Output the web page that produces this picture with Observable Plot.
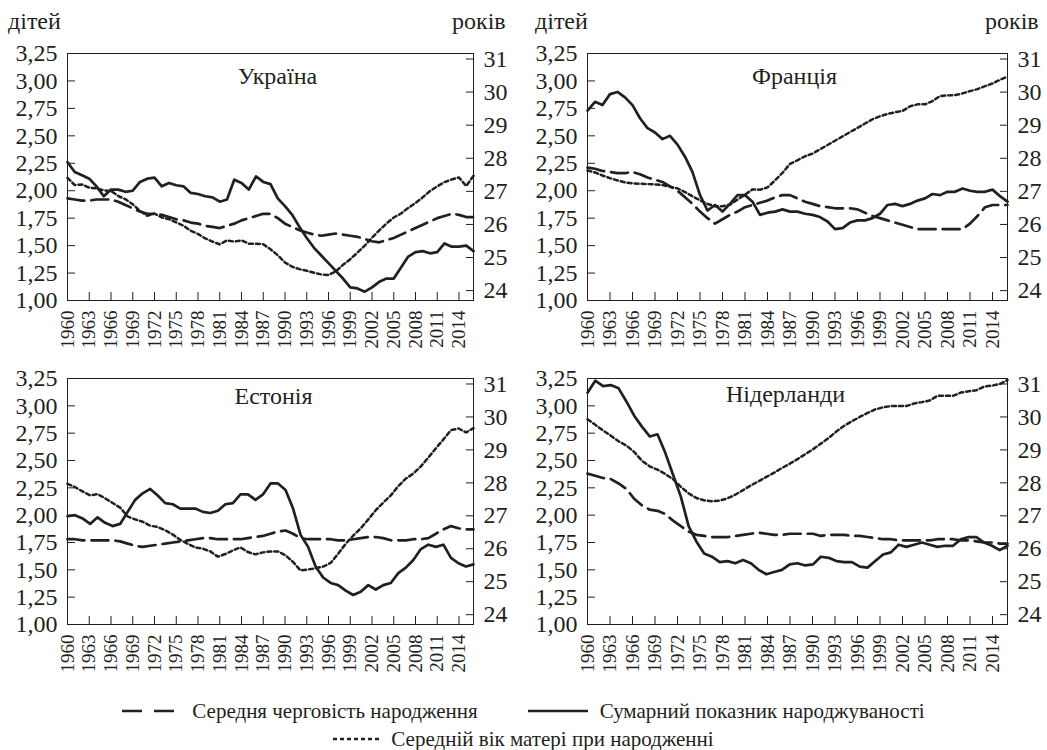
<!DOCTYPE html>
<html>
<head>
<meta charset="utf-8">
<script src="https://cdn.jsdelivr.net/npm/d3@7"></script>
<script src="https://cdn.jsdelivr.net/npm/@observablehq/plot@0.6"></script>
<style>
  html, body { margin: 0; padding: 0; background: #fff; }
  body { font-family: "Liberation Serif", "Times New Roman", serif; color: #231f20; }
  #wrap { position: relative; width: 1047px; height: 750px; overflow: hidden; }
  .panel { position: absolute; }
  .panel svg { overflow: visible; }
  .unit { position: absolute; font-size: 24px; line-height: 24px; white-space: nowrap; }
  .legrow { position: absolute; left: 0; width: 1047px; display: flex; justify-content: center; align-items: center; font-size: 21px; line-height: 24px; }
  .legitem { display: flex; align-items: center; }
  .legitem svg { margin-right: 12px; }
</style>
</head>
<body>
<div id="wrap"></div>
<script>
// ---------- data ----------
const yearsLong = d3.range(1960, 2017);   // Україна, Франція: 1960–2016
const yearsShort = d3.range(1960, 2015);  // Естонія, Нідерланди: 1960–2014 (stretched over the same axis in the source)
const xTickYears = d3.range(1960, 2015, 3);
const leftTicks = [1.00, 1.25, 1.50, 1.75, 2.00, 2.25, 2.50, 2.75, 3.00, 3.25];
const rightTicks = [24, 25, 26, 27, 28, 29, 30, 31];

const panelTitles = ["Україна", "Франція", "Естонія", "Нідерланди"];
const seriesNames = ["Середня черговість народження", "Сумарний показник народжуваності", "Середній вік матері при народженні"];
const unitLeft = "дітей";
const unitRight = "років";

// Україна
const uaTfr = [2.26,2.17,2.14,2.11,2.04,1.95,2.01,2.01,1.99,2.00,
  2.08,2.11,2.12,2.04,2.07,2.05,2.04,1.98,1.97,1.95,
  1.94,1.90,1.92,2.10,2.07,2.01,2.13,2.08,2.06,1.93,
  1.86,1.78,1.67,1.57,1.48,1.41,1.34,1.27,1.20,1.12,
  1.11,1.08,1.12,1.17,1.20,1.20,1.30,1.40,1.44,1.45,
  1.43,1.44,1.52,1.49,1.49,1.50,1.45];
const uaOrder = [1.93,1.92,1.91,1.91,1.92,1.92,1.92,1.90,1.87,1.84,
  1.81,1.79,1.79,1.78,1.76,1.74,1.73,1.71,1.70,1.68,
  1.67,1.66,1.68,1.70,1.73,1.75,1.77,1.79,1.79,1.75,
  1.70,1.67,1.64,1.62,1.60,1.59,1.60,1.61,1.60,1.59,
  1.58,1.56,1.54,1.53,1.55,1.57,1.60,1.63,1.66,1.69,
  1.72,1.75,1.77,1.79,1.78,1.76,1.76];
const uaAge = [27.41,27.19,27.21,27.11,27.09,27.03,27.01,26.86,26.76,26.61,
  26.41,26.26,26.33,26.21,26.16,26.06,25.96,25.81,25.71,25.58,
  25.48,25.40,25.52,25.48,25.52,25.42,25.42,25.40,25.25,25.07,
  24.85,24.72,24.65,24.60,24.54,24.49,24.47,24.58,24.78,24.95,
  25.15,25.36,25.60,25.82,26.03,26.21,26.33,26.50,26.65,26.82,
  27.01,27.15,27.28,27.36,27.42,27.16,27.47];

// Франція
const frTfr = [2.73,2.81,2.78,2.88,2.90,2.85,2.78,2.66,2.57,2.53,
  2.47,2.50,2.42,2.31,2.17,1.96,1.82,1.87,1.81,1.88,
  1.96,1.96,1.90,1.78,1.80,1.81,1.83,1.81,1.81,1.79,
  1.78,1.76,1.72,1.65,1.66,1.71,1.73,1.73,1.75,1.79,
  1.87,1.88,1.86,1.88,1.91,1.93,1.97,1.96,1.99,1.99,
  2.02,2.00,1.99,1.99,2.01,1.95,1.90];
const frOrder = [2.21,2.20,2.18,2.17,2.16,2.16,2.17,2.15,2.12,2.10,
  2.08,2.04,2.00,1.94,1.88,1.81,1.75,1.70,1.74,1.78,
  1.81,1.85,1.87,1.89,1.91,1.94,1.96,1.96,1.93,1.90,
  1.88,1.86,1.85,1.84,1.84,1.84,1.83,1.80,1.77,1.75,
  1.73,1.71,1.69,1.67,1.65,1.65,1.65,1.65,1.65,1.65,
  1.65,1.70,1.77,1.85,1.87,1.87,1.87];
const frAge = [27.63,27.57,27.48,27.40,27.33,27.27,27.24,27.23,27.22,27.21,
  27.19,27.14,27.09,26.98,26.85,26.73,26.62,26.55,26.55,26.60,
  26.75,26.90,27.06,27.05,27.12,27.33,27.56,27.83,27.94,28.06,
  28.14,28.27,28.40,28.53,28.66,28.79,28.92,29.05,29.18,29.27,
  29.34,29.39,29.43,29.57,29.63,29.63,29.73,29.88,29.90,29.91,
  29.96,30.03,30.09,30.18,30.26,30.37,30.47];

// Естонія
const eeTfr = [1.99,2.00,1.97,1.92,1.98,1.93,1.90,1.92,2.03,2.14,
  2.20,2.24,2.18,2.11,2.10,2.06,2.06,2.06,2.03,2.02,
  2.04,2.10,2.11,2.19,2.19,2.14,2.19,2.29,2.29,2.23,
  2.06,1.82,1.71,1.53,1.43,1.38,1.36,1.31,1.27,1.30,
  1.36,1.32,1.36,1.38,1.47,1.52,1.59,1.69,1.73,1.71,
  1.73,1.61,1.56,1.53,1.55];
const eeOrder = [1.78,1.78,1.77,1.77,1.77,1.77,1.77,1.76,1.74,1.72,
  1.71,1.72,1.73,1.74,1.75,1.76,1.77,1.78,1.79,1.79,
  1.78,1.78,1.78,1.78,1.79,1.80,1.81,1.83,1.85,1.86,
  1.83,1.79,1.78,1.78,1.78,1.78,1.77,1.77,1.78,1.79,
  1.80,1.80,1.79,1.77,1.77,1.77,1.78,1.78,1.79,1.83,
  1.87,1.90,1.88,1.87,1.87];
const eeAge = [27.97,27.87,27.74,27.62,27.66,27.53,27.39,27.25,26.98,26.89,
  26.82,26.70,26.66,26.56,26.43,26.27,26.15,26.04,26.00,25.92,
  25.76,25.84,25.95,26.04,25.90,25.83,25.89,25.92,25.92,25.80,
  25.60,25.34,25.37,25.41,25.46,25.57,25.85,26.15,26.40,26.62,
  26.89,27.17,27.40,27.62,27.90,28.13,28.28,28.50,28.77,29.05,
  29.32,29.60,29.65,29.53,29.66];

// Нідерланди
const nlTfr = [3.12,3.23,3.18,3.19,3.16,3.04,2.91,2.81,2.72,2.74,
  2.57,2.37,2.17,1.90,1.76,1.65,1.62,1.57,1.58,1.56,
  1.59,1.56,1.50,1.46,1.48,1.50,1.55,1.56,1.54,1.55,
  1.62,1.61,1.58,1.57,1.57,1.53,1.52,1.58,1.64,1.66,
  1.73,1.71,1.73,1.75,1.73,1.71,1.72,1.72,1.78,1.80,
  1.80,1.75,1.72,1.68,1.72];
const nlOrder = [2.38,2.36,2.34,2.33,2.29,2.24,2.15,2.09,2.05,2.04,
  2.01,1.95,1.90,1.85,1.82,1.81,1.80,1.80,1.80,1.81,
  1.82,1.83,1.84,1.83,1.82,1.82,1.83,1.83,1.83,1.83,
  1.81,1.82,1.82,1.82,1.81,1.81,1.80,1.79,1.78,1.78,
  1.77,1.77,1.77,1.77,1.77,1.78,1.78,1.78,1.77,1.77,
  1.76,1.75,1.75,1.74,1.74];
const nlAge = [29.93,29.76,29.59,29.43,29.26,29.13,28.94,28.67,28.50,28.40,
  28.27,28.11,27.88,27.68,27.54,27.47,27.44,27.46,27.53,27.64,
  27.78,27.92,28.05,28.18,28.31,28.45,28.58,28.72,28.87,29.02,
  29.19,29.36,29.56,29.73,29.87,30.00,30.12,30.23,30.29,30.33,
  30.33,30.33,30.41,30.45,30.50,30.64,30.64,30.64,30.74,30.78,
  30.81,30.92,30.95,31.00,31.12];

// ---------- styling ----------
const INK = "#231f20";
const FONT = "'Liberation Serif', 'Times New Roman', serif";
const DASH = "17,7";
const DOT = "4,3";

// secondary (right) axis: age in years mapped onto the left (children) scale
const AGE0 = 24, LEFT_AT_AGE0 = 1.09, LEFT_PER_YEAR = 0.3014;
const toLeft = a => LEFT_AT_AGE0 + (a - AGE0) * LEFT_PER_YEAR;
const fromLeft = v => AGE0 + (v - LEFT_AT_AGE0) / LEFT_PER_YEAR;
const fmtComma = d => d.toFixed(2).replace(".", ",");

const wrap = document.getElementById("wrap");

function panel(cfg) {
  const {title, yrs, tfr, order, age, left, top, width, height, mt, mb, ml, mr, tdx, tdy} = cfg;
  const last = yrs[yrs.length - 1];
  // the source chart spreads each series across the full 1960–2016 category axis
  const xpos = yr => 1960 + (yr - 1960) * 56 / (last - 1960);
  const rows = yrs.map((yr, i) => ({yr, tfr: tfr[i], order: order[i], age: age[i]}));
  const chart = Plot.plot({
    width, height,
    marginTop: mt, marginBottom: mb, marginLeft: ml, marginRight: mr,
    style: {fontFamily: FONT, color: INK, background: "transparent"},
    x: {domain: [1960, 2016]},
    y: {domain: [1, 3.25]},
    marks: [
      Plot.axisX({ticks: xTickYears, tickFormat: d => String(d), tickRotate: -90, tickSize: -8, tickPadding: 18, fontSize: 19, label: null, stroke: INK}),
      Plot.axisY({anchor: "left", ticks: leftTicks, tickFormat: fmtComma, tickSize: -8, tickPadding: 18, fontSize: 24, label: null, stroke: INK}),
      Plot.axisY({anchor: "right", ticks: rightTicks.map(toLeft), tickFormat: v => String(Math.round(fromLeft(v))), tickSize: -8, tickPadding: 18, fontSize: 24, label: null, stroke: INK}),
      Plot.lineY(rows, {x: d => xpos(d.yr), y: "order", stroke: INK, strokeWidth: 2.7, strokeDasharray: DASH}),
      Plot.lineY(rows, {x: d => xpos(d.yr), y: d => toLeft(d.age), stroke: INK, strokeWidth: 2.5, strokeDasharray: DOT}),
      Plot.lineY(rows, {x: d => xpos(d.yr), y: "tfr", stroke: INK, strokeWidth: 2.7}),
      Plot.frame({stroke: INK, strokeWidth: 1}),
      Plot.text([title], {text: d => d, frameAnchor: "top", lineAnchor: "middle", dx: tdx, dy: tdy, fontSize: 24, fill: INK})
    ]
  });
  const div = document.createElement("div");
  div.className = "panel";
  div.style.left = left + "px";
  div.style.top = top + "px";
  div.appendChild(chart);
  wrap.appendChild(div);
}

panel({title: panelTitles[0], yrs: yearsLong, tfr: uaTfr, order: uaOrder, age: uaAge,
  left: 0, top: 0, width: 520, height: 350, mt: 53, mb: 50, ml: 67, mr: 47, tdx: 7, tdy: 23});
panel({title: panelTitles[1], yrs: yearsLong, tfr: frTfr, order: frOrder, age: frAge,
  left: 520, top: 0, width: 527, height: 350, mt: 53, mb: 50, ml: 67, mr: 40, tdx: -3, tdy: 23});
panel({title: panelTitles[2], yrs: yearsShort, tfr: eeTfr, order: eeOrder, age: eeAge,
  left: 0, top: 350, width: 520, height: 340, mt: 28, mb: 66, ml: 67, mr: 47, tdx: 3, tdy: 18});
panel({title: panelTitles[3], yrs: yearsShort, tfr: nlTfr, order: nlOrder, age: nlAge,
  left: 520, top: 350, width: 527, height: 340, mt: 28, mb: 66, ml: 67, mr: 40, tdx: -12, tdy: 16});

// unit labels above the top panels
function unit(text, left, top) {
  const s = document.createElement("div");
  s.className = "unit";
  s.textContent = text;
  s.style.left = left + "px";
  s.style.top = top + "px";
  wrap.appendChild(s);
}
unit(unitLeft, 8, 9);
unit(unitRight, 452, 9);
unit(unitLeft, 535, 9);
unit(unitRight, 985, 9);

// legend
function swatch(w, dash) {
  const ns = "http://www.w3.org/2000/svg";
  const svg = document.createElementNS(ns, "svg");
  svg.setAttribute("width", w);
  svg.setAttribute("height", 10);
  const l = document.createElementNS(ns, "line");
  l.setAttribute("x1", 0); l.setAttribute("x2", w);
  l.setAttribute("y1", 5); l.setAttribute("y2", 5);
  l.setAttribute("stroke", INK);
  l.setAttribute("stroke-width", dash === DOT ? 2.5 : 2.7);
  if (dash) l.setAttribute("stroke-dasharray", dash);
  svg.appendChild(l);
  return svg;
}
function legItem(w, dash, label, marginRight) {
  const it = document.createElement("div");
  it.className = "legitem";
  if (marginRight) it.style.marginRight = marginRight + "px";
  it.appendChild(swatch(w, dash));
  const t = document.createElement("span");
  t.textContent = label;
  it.appendChild(t);
  return it;
}
const row1 = document.createElement("div");
row1.className = "legrow";
row1.style.top = "699px";
row1.appendChild(legItem(58, "20,12", seriesNames[0], 50));
row1.appendChild(legItem(60, null, seriesNames[1], 0));
wrap.appendChild(row1);
const row2 = document.createElement("div");
row2.className = "legrow";
row2.style.top = "727px";
row2.appendChild(legItem(46, DOT, seriesNames[2], 0));
wrap.appendChild(row2);
</script>
</body>
</html>
